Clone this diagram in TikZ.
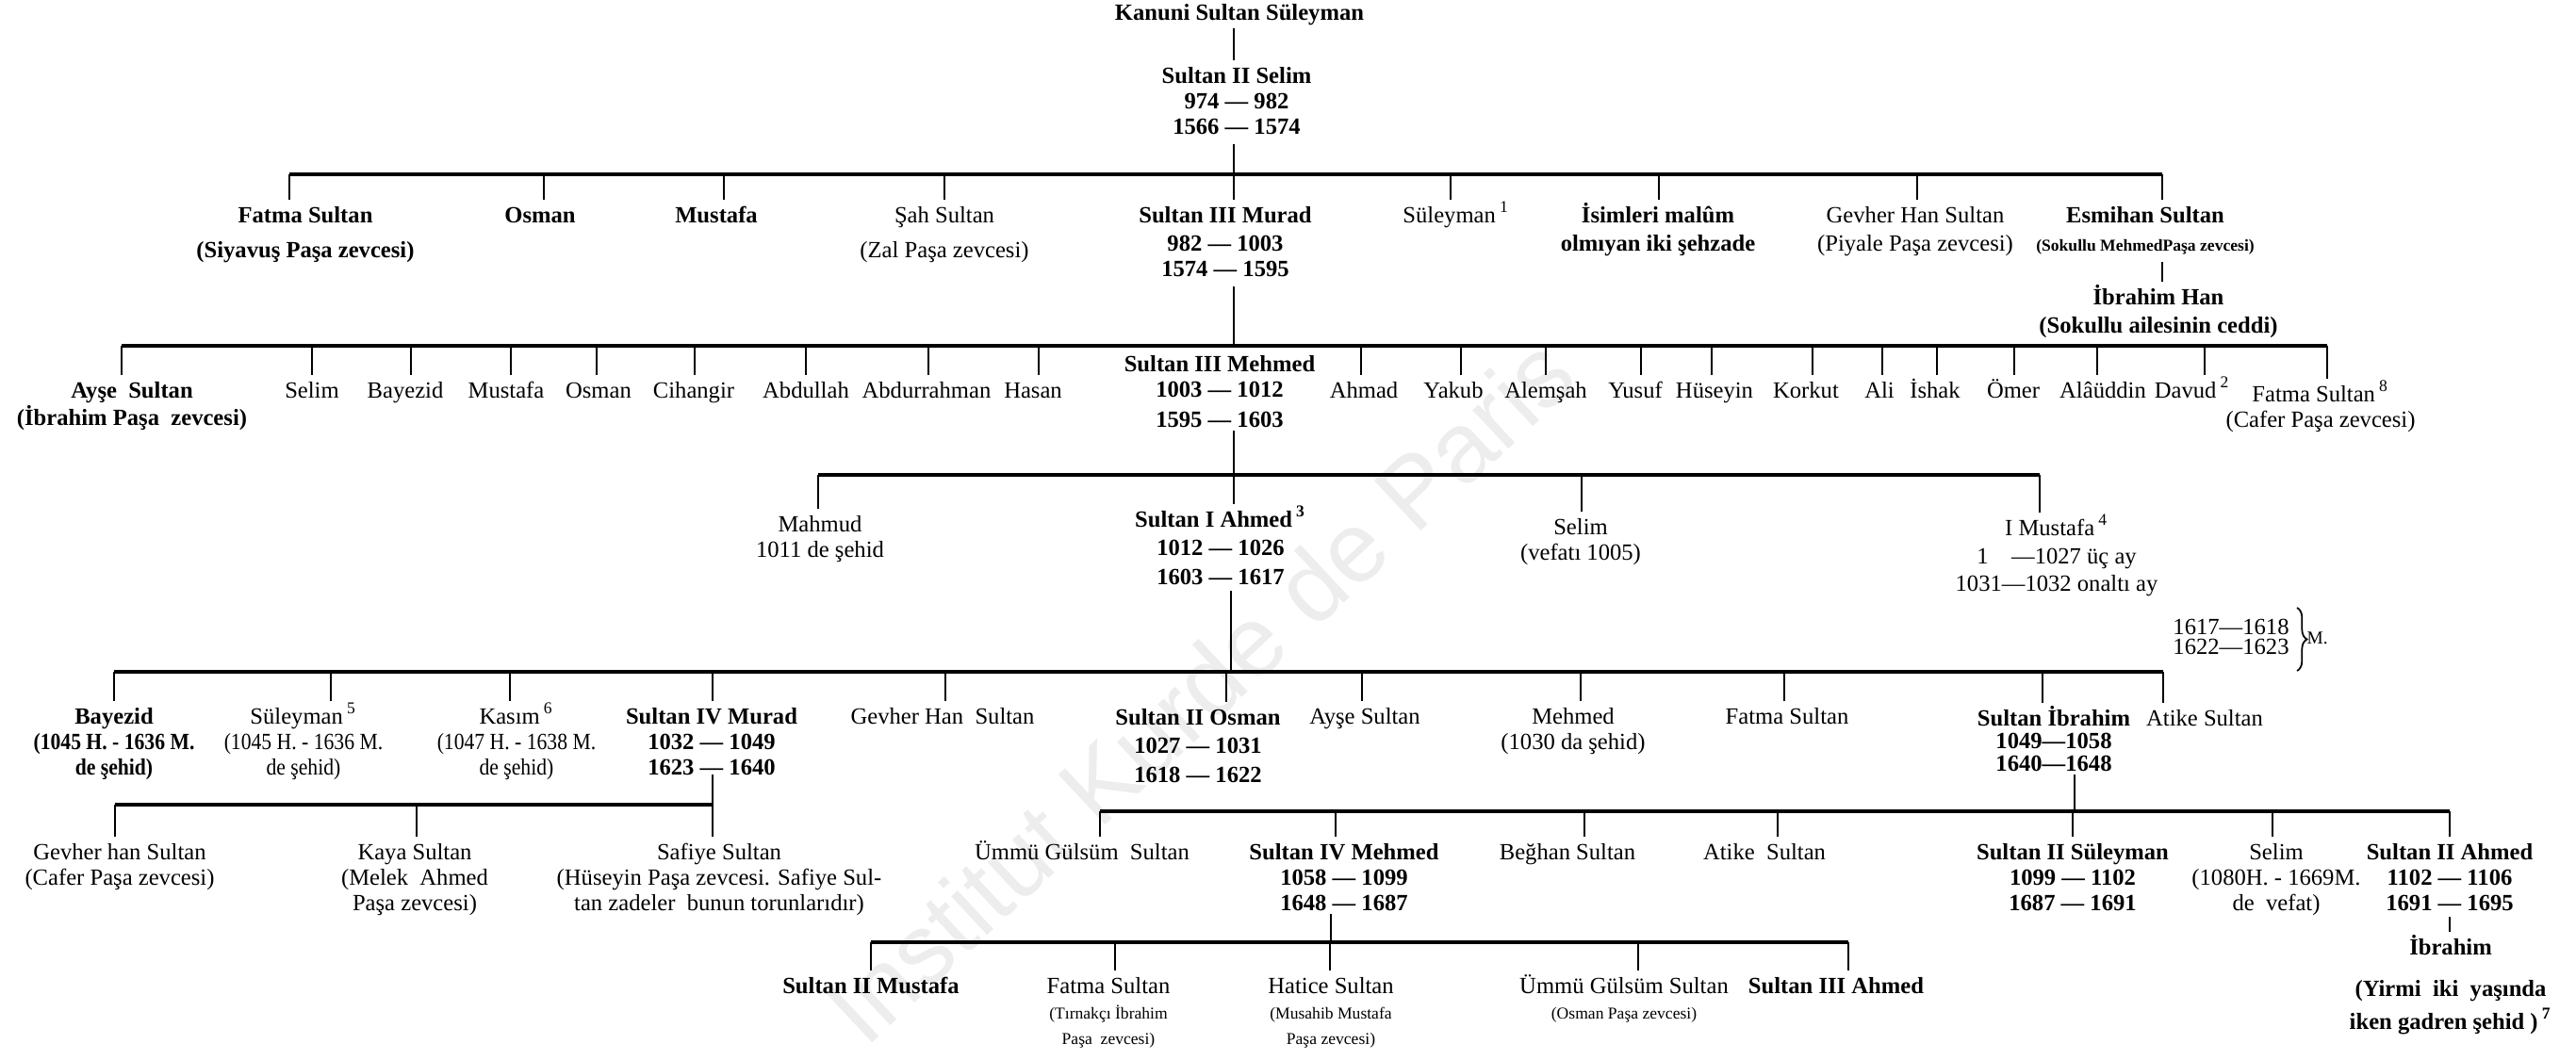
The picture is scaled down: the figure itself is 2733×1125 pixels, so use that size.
\documentclass[tikz,border=0pt]{standalone}
\usepackage{fontspec}
\setmainfont{Liberation Serif}
\newfontfamily\wmfont{Liberation Sans}
\newfontfamily\cond[FakeStretch=0.88]{Liberation Serif}
\usetikzlibrary{decorations.pathreplacing}
\newcommand\fs{\fontsize{7}{7.6}\selectfont}
\newcommand\smf{\fontsize{5}{6}\selectfont}
\newcommand\nsup[1]{\,\textsuperscript{#1}}
\newcommand\tp{\rule{0pt}{7pt}}
\newcommand\kid[3]{\coordinate (#1-d) at (#2,#3); \draw[drop] (#1-d) -- (#1-d |- #1.north);}
\begin{document}
\begin{tikzpicture}[x=0.01cm,y=-0.01cm,
  t/.style={anchor=north, inner sep=0pt, outer sep=0pt, align=center, font=\fs, yshift=0.18cm},
  tb/.style={t, font=\fs\bfseries},
  bar/.style={line width=1pt},
  drop/.style={line width=0.6pt},
  wm/.style={font=\wmfont\fontsize{30}{30}\selectfont, text=black!7, rotate=43, inner sep=0pt}]
\useasboundingbox (0,0) rectangle (2733,1125);
\fill[white] (0,0) rectangle (2733,1125);
\node[wm] (wmark) at (1272,732) {Institut Kurde de Paris};

% level 0
\node[tb] (kanuni) at (1315,15) {\tp Kanuni Sultan Süleyman};
\node[tb] (selim2) at (1312,82) {\tp Sultan II Selim\\974 — 982\\1566 — 1574};
\coordinate (k0) at (1309,0);
\draw[drop] ([yshift=-1pt]kanuni.south -| k0) -- (selim2.north -| k0);
\coordinate (L1m) at (1309,185);
\draw[drop] ([yshift=-3pt]selim2.south -| L1m) -- (L1m);

% level 1
\node[tb] (fatma1) at (324,230) {\tp Fatma Sultan\\[3pt](Siyavuş Paşa zevcesi)};
\node[tb] (osman1) at (573,230) {\tp Osman};
\node[tb] (mustafa1) at (760,230) {\tp Mustafa};
\node[t] (sah) at (1002,230) {\tp Şah Sultan\\[3pt](Zal Paşa zevcesi)};
\node[tb] (murad3) at (1300,230) {\tp Sultan III Murad\\[1pt]982 — 1003\\1574 — 1595};
\node[t] (suleyman1) at (1545,230) {\tp Süleyman\nsup{1}};
\node[tb] (isimleri) at (1759,230) {\tp İsimleri malûm\\[1pt]olmıyan iki şehzade};
\node[t] (gevher1) at (2032,230) {\tp Gevher Han Sultan\\[1pt](Piyale Paşa zevcesi)};
\node[tb] (esmihan) at (2276,230) {\tp Esmihan Sultan\\[1pt]{\smf (Sokullu MehmedPaşa zevcesi)}};
\node[tb] (ibrahimhan) at (2290,317) {\tp İbrahim Han\\[1pt](Sokullu ailesinin ceddi)};
\kid{fatma1}{307}{185}
\kid{osman1}{577}{185}
\kid{mustafa1}{768}{185}
\kid{sah}{1002}{185}
\kid{murad3}{1309}{185}
\kid{suleyman1}{1539}{185}
\kid{isimleri}{1760}{185}
\kid{gevher1}{2034}{185}
\kid{esmihan}{2294}{185}
\draw[bar] (fatma1-d) -- (esmihan-d);
\draw[drop] ([yshift=-2pt]esmihan.south -| esmihan-d) -- (ibrahimhan.north -| esmihan-d);
\coordinate (L2m) at (1309,367);
\draw[drop] ([yshift=-3pt]murad3.south -| L2m) -- (L2m);

% level 2
\node[tb] (ayse2) at (140,416) {\tp Ayşe\ \ Sultan\\[0.5pt](İbrahim Paşa\ \ zevcesi)};
\node[t] (selim3) at (331,416) {\tp Selim};
\node[t] (bayezid3) at (430,416) {\tp Bayezid};
\node[t] (mustafa3) at (537,416) {\tp Mustafa};
\node[t] (osman3) at (635,416) {\tp Osman};
\node[t] (cihangir) at (736,416) {\tp Cihangir};
\node[t] (abdullah) at (855,416) {\tp Abdullah};
\node[t] (abdurrahman) at (983,416) {\tp Abdurrahman};
\node[t] (hasan) at (1096,416) {\tp Hasan};
\node[tb] (mehmed3) at (1294,388) {\tp Sultan III Mehmed\\1003 — 1012\\[1.5pt]1595 — 1603};
\node[t] (ahmad) at (1447,416) {\tp Ahmad};
\node[t] (yakub) at (1542,416) {\tp Yakub};
\node[t] (alemsah) at (1640,416) {\tp Alemşah};
\node[t] (yusuf) at (1735,416) {\tp Yusuf};
\node[t] (huseyin) at (1819,416) {\tp Hüseyin};
\node[t] (korkut) at (1916,416) {\tp Korkut};
\node[t] (ali) at (1994,416) {\tp Ali};
\node[t] (ishak) at (2053,416) {\tp İshak};
\node[t] (omer) at (2136,416) {\tp Ömer};
\node[t] (alauddin) at (2231,416) {\tp Alâüddin};
\node[t] (davud) at (2326,416) {\tp Davud\nsup{2}};
\node[t] (fatma2) at (2462,420) {\tp Fatma Sultan\nsup{8}\\(Cafer Paşa zevcesi)};
\kid{ayse2}{129}{367}
\kid{selim3}{331}{367}
\kid{bayezid3}{436}{367}
\kid{mustafa3}{542}{367}
\kid{osman3}{633}{367}
\kid{cihangir}{737}{367}
\kid{abdullah}{855}{367}
\kid{abdurrahman}{985}{367}
\kid{hasan}{1102}{367}
\kid{ahmad}{1444}{367}
\kid{yakub}{1550}{367}
\kid{alemsah}{1640}{367}
\kid{yusuf}{1741}{367}
\kid{huseyin}{1816}{367}
\kid{korkut}{1923}{367}
\kid{ali}{1997}{367}
\kid{ishak}{2055}{367}
\kid{omer}{2137}{367}
\kid{alauddin}{2225}{367}
\kid{davud}{2339}{367}
\kid{fatma2}{2469}{367}
\draw[bar] (ayse2-d) -- (fatma2-d);
\coordinate (L3m) at (1309,504);
\draw[drop] ([yshift=-1pt]mehmed3.south -| L3m) -- (L3m);

% level 3
\node[t] (mahmud) at (870,558) {\tp Mahmud\\1011 de şehid};
\node[tb] (ahmed1) at (1295,553) {\tp Sultan I Ahmed\nsup{3}\\[1pt]1012 — 1026\\[1pt]1603 — 1617};
\node[t] (selim4) at (1677,561) {\tp Selim\\(vefatı 1005)};
\node[t] (mustafa4) at (2182,562) {\tp I Mustafa\nsup{4}\\[0.8pt]1\hspace{1em}—1027 üç ay\\[0.8pt]1031—1032 onaltı ay};
\kid{mahmud}{868}{504}
\kid{ahmed1}{1309}{504}
\kid{selim4}{1678}{504}
\kid{mustafa4}{2164}{504}
\draw[bar] (mahmud-d) -- (mustafa4-d);
\node[t] (m1617) at (2367,667) {\tp 1617—1618\\[-1.8pt]1622—1623};
\coordinate (brT) at (2437,645);
\coordinate (brB) at (2437,712);
\draw[decorate,decoration={brace,amplitude=3pt},line width=0.5pt] (brT) -- (brB);
\node[font=\fontsize{5.5}{6}\selectfont, inner sep=0pt, anchor=west] (mlab) at (2447,677) {M.};
\coordinate (L4m) at (1306,713);
\draw[drop] ([yshift=-2pt]ahmed1.south -| L4m) -- (L4m);

% level 4
\node[tb] (bayezid4) at (121,762) {\tp Bayezid\\{\cond (1045 H. - 1636 M.}\\{\cond de şehid)}};
\node[t] (suleyman5) at (322,762) {\tp Süleyman\nsup{5}\\{\cond (1045 H. - 1636 M.}\\{\cond de şehid)}};
\node[t] (kasim) at (548,762) {\tp Kasım\nsup{6}\\{\cond (1047 H. - 1638 M.}\\{\cond de şehid)}};
\node[tb] (murad4) at (755,762) {\tp Sultan IV Murad\\1032 — 1049\\1623 — 1640};
\node[t] (gevher4) at (1000,762) {\tp Gevher Han\ \ Sultan};
\node[tb] (osman2) at (1271,763) {\tp Sultan II Osman\\[1pt]1027 — 1031\\[1pt]1618 — 1622};
\node[t] (ayse4) at (1448,762) {\tp Ayşe Sultan};
\node[t] (mehmed4) at (1669,762) {\tp Mehmed\\(1030 da şehid)};
\node[t] (fatma4) at (1896,762) {\tp Fatma Sultan};
\node[tb] (ibrahim) at (2179,764) {\tp Sultan İbrahim\\[-0.8pt]1049—1058\\[-0.8pt]1640—1648};
\node[t] (atike4) at (2339,764) {\tp Atike Sultan};
\kid{bayezid4}{121}{713}
\kid{suleyman5}{351}{713}
\kid{kasim}{541}{713}
\kid{murad4}{756}{713}
\kid{gevher4}{1003}{713}
\kid{osman2}{1301}{713}
\kid{ayse4}{1445}{713}
\kid{mehmed4}{1677}{713}
\kid{fatma4}{1893}{713}
\kid{ibrahim}{2167}{713}
\kid{atike4}{2295}{713}
\draw[bar] (bayezid4-d) -- (atike4-d);
\coordinate (L5a) at (756,854);
\draw[drop] (murad4.south -| L5a) -- (L5a);
\coordinate (L5b) at (2201,861);
\draw[drop] ([yshift=-1pt]ibrahim.south -| L5b) -- (L5b);

% level 5
\node[t] (gevher5) at (127,906) {\tp Gevher han Sultan\\(Cafer Paşa zevcesi)};
\node[t] (kaya) at (440,906) {\tp Kaya Sultan\\(Melek\ \ Ahmed\\Paşa zevcesi)};
\node[t] (safiye) at (763,906) {\tp Safiye Sultan\\(Hüseyin Paşa zevcesi. Safiye Sul-\\tan zadeler\ \ bunun torunlarıdır)};
\node[t] (ummu5) at (1148,906) {\tp Ümmü Gülsüm\ \ Sultan};
\node[tb] (mehmed4s) at (1426,906) {\tp Sultan IV Mehmed\\1058 — 1099\\1648 — 1687};
\node[t] (beghan) at (1663,906) {\tp Beğhan Sultan};
\node[t] (atike5) at (1872,906) {\tp Atike\ \ Sultan};
\node[tb] (suleyman2) at (2199,906) {\tp Sultan II Süleyman\\1099 — 1102\\1687 — 1691};
\node[t] (selim5) at (2415,906) {\tp Selim\\(1080H. - 1669M.\\de\ \ vefat)};
\node[tb] (ahmed2) at (2599,906) {\tp Sultan II Ahmed\\1102 — 1106\\1691 — 1695};
\kid{gevher5}{122}{854}
\kid{kaya}{442}{854}
\kid{safiye}{756}{854}
\draw[bar] (gevher5-d) -- (safiye-d);
\kid{ummu5}{1167}{861}
\kid{mehmed4s}{1417}{861}
\kid{beghan}{1681}{861}
\kid{atike5}{1886}{861}
\kid{suleyman2}{2199}{861}
\kid{selim5}{2411}{861}
\kid{ahmed2}{2599}{861}
\draw[bar] (ummu5-d) -- (ahmed2-d);
\coordinate (L6m) at (1412,1000);
\draw[drop] ([yshift=-1pt]mehmed4s.south -| L6m) -- (L6m);

% level 6
\node[tb] (mustafa2) at (924,1048) {\tp Sultan II Mustafa};
\node[t] (fatma6) at (1176,1048) {\tp Fatma Sultan\\{\smf (Tırnakçı İbrahim}\\{\smf Paşa\ \ zevcesi)}};
\node[t] (hatice) at (1412,1048) {\tp Hatice Sultan\\{\smf (Musahib Mustafa}\\{\smf Paşa zevcesi)}};
\node[t] (ummu6) at (1723,1048) {\tp Ümmü Gülsüm Sultan\\{\smf (Osman Paşa zevcesi)}};
\node[tb] (ahmed3) at (1948,1048) {\tp Sultan III Ahmed};
\kid{mustafa2}{924}{1000}
\kid{fatma6}{1183}{1000}
\kid{hatice}{1411}{1000}
\kid{ummu6}{1738}{1000}
\kid{ahmed3}{1961}{1000}
\draw[bar] (mustafa2-d) -- (ahmed3-d);
\node[tb] (ibrahimY) at (2600,1007) {\tp İbrahim\\[5pt](Yirmi\ \ iki\ \ yaşında\\[1pt]iken gadren şehid )\nsup{7}};
\draw[drop] ([yshift=-2pt]ahmed2.south -| ahmed2-d) -- (ibrahimY.north -| ahmed2-d);
\end{tikzpicture}
\end{document}
